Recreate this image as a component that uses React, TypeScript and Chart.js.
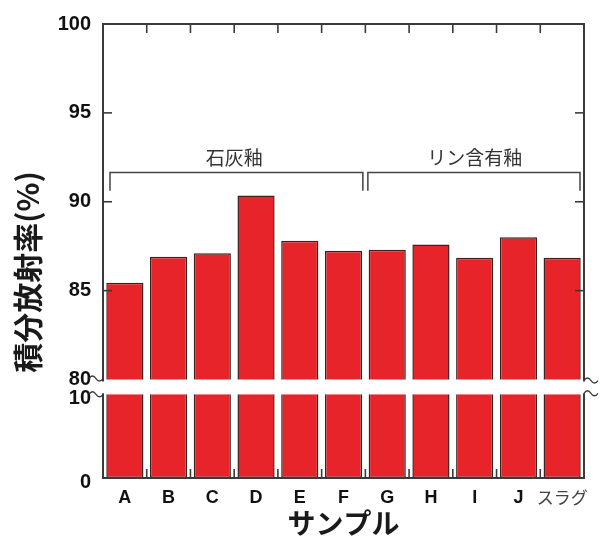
import React, { useEffect, useRef } from 'react';
import { Chart, registerables } from 'chart.js';

Chart.register(...registerables);

// ---- data ----
const categories = ['A', 'B', 'C', 'D', 'E', 'F', 'G', 'H', 'I', 'J', 'スラグ'];
const emissivity = [85.45, 86.9, 87.1, 90.35, 87.8, 87.25, 87.3, 87.6, 86.85, 88.0, 86.85];
const upperTicks = [80, 85, 90, 95, 100];
const lowerTicks = [0, 10];
const innerTickValues = [85, 90, 95];
const groupLabels = ['石灰釉', 'リン含有釉'];
const groupFrom = [0, 6];
const groupTo = [5, 10];
const xTitle = 'サンプル';
const yTitle = '積分放射率(%)';

// axis ranges (broken axis)
const UPPER_MIN = 80;
const UPPER_MAX = 100;
const LOWER_MIN = 0;
const LOWER_TOP = 10;
const LOWER_MAX = 11.76; // includes the white gap above 10
const BRACKET_VALUE = 91.65;
const BRACKET_END_VALUE = 90.62;
const GROUP_LABEL_VALUE = 92.5;

const RED = '#e6242a';
const BAR_EDGE = '#3e2020';
const AXIS = '#3a3a3a';
const LATIN = '"Liberation Sans", Arial, sans-serif';
const CJK = '"Noto Sans CJK JP", sans-serif';

const decorPlugin = {
  id: 'decor',
  afterDraw(chart: any) {
    const ctx = chart.ctx as CanvasRenderingContext2D;
    const x = chart.scales.x;
    const yT = chart.scales.yTop;
    const yB = chart.scales.yBot;
    const { left: L, right: R, top: T, bottom: B } = chart.chartArea;
    const breakTop = yT.getPixelForValue(UPPER_MIN);
    const breakBot = yB.getPixelForValue(LOWER_TOP);
    const line = (x1: number, y1: number, x2: number, y2: number) => {
      ctx.beginPath();
      ctx.moveTo(x1, y1);
      ctx.lineTo(x2, y2);
      ctx.stroke();
    };
    ctx.save();
    ctx.strokeStyle = AXIS;
    ctx.lineWidth = 2;
    ctx.lineCap = 'butt';
    // frame
    line(L - 1, T, R + 1, T);
    line(L - 1, B, R + 1, B);
    line(L, T, L, breakTop + 2);
    line(L, breakBot - 1, L, B);
    line(R, T, R, breakTop + 2);
    line(R, breakBot - 1, R, B);
    // inward ticks on top / bottom at category boundaries
    const n = categories.length;
    const boundary = (i: number) => (x.getPixelForValue(i - 1) + x.getPixelForValue(i)) / 2;
    ctx.lineWidth = 1.6;
    for (let i = 1; i < n; i++) {
      const bx = boundary(i);
      line(bx, T, bx, T + 9);
      line(bx, B, bx, B - 9);
    }
    // inward ticks left / right
    for (const v of innerTickValues) {
      const py = yT.getPixelForValue(v);
      line(L, py, L + 9, py);
      line(R, py, R - 9, py);
    }
    // break tildes
    ctx.lineWidth = 1.3;
    const tilde = (x0: number, cy: number, w: number) => {
      ctx.beginPath();
      ctx.moveTo(x0, cy);
      ctx.quadraticCurveTo(x0 + w / 4, cy - 5, x0 + w / 2, cy);
      ctx.quadraticCurveTo(x0 + (3 * w) / 4, cy + 5, x0 + w, cy);
      ctx.stroke();
    };
    tilde(L - 14, breakTop - 1, 14);
    tilde(L - 14, breakBot, 14);
    tilde(R, breakTop + 1, 14);
    tilde(R, breakBot - 1, 14);
    // group brackets
    ctx.strokeStyle = '#444';
    ctx.lineWidth = 1.5;
    const yb = yT.getPixelForValue(BRACKET_VALUE);
    const ye = yT.getPixelForValue(BRACKET_END_VALUE);
    const yl = yT.getPixelForValue(GROUP_LABEL_VALUE);
    ctx.fillStyle = '#333';
    ctx.font = `19px ${CJK}`;
    ctx.textAlign = 'center';
    ctx.textBaseline = 'middle';
    for (let g = 0; g < groupLabels.length; g++) {
      const s = groupFrom[g] === 0 ? L + 7 : boundary(groupFrom[g]) + 2.5;
      const e = groupTo[g] === n - 1 ? R - 4 : boundary(groupTo[g] + 1) - 2.5;
      ctx.beginPath();
      ctx.moveTo(s, ye);
      ctx.lineTo(s, yb);
      ctx.lineTo(e, yb);
      ctx.lineTo(e, ye);
      ctx.stroke();
      const cx = (x.getPixelForValue(groupFrom[g]) + x.getPixelForValue(groupTo[g])) / 2;
      ctx.fillText(groupLabels[g], cx, yl);
    }
    // titles
    ctx.fillStyle = '#1a1a1a';
    ctx.font = `bold 28px ${CJK}`;
    ctx.fillText(xTitle, (L + R) / 2, 523);
    ctx.save();
    ctx.translate(28, 272);
    ctx.rotate(-Math.PI / 2);
    ctx.font = `bold 30px ${CJK}`;
    ctx.fillText(yTitle, 0, 0);
    ctx.restore();
    ctx.restore();
  },
};

export default function App() {
  const ref = useRef<HTMLCanvasElement>(null);
  useEffect(() => {
    if (!ref.current) return;
    const yFont = { family: LATIN, size: 20, weight: 'bold' };
    const chart = new Chart(ref.current, {
      type: 'bar',
      data: {
        labels: categories,
        datasets: [
          {
            data: emissivity,
            yAxisID: 'yTop',
            backgroundColor: RED,
            borderColor: BAR_EDGE,
            borderWidth: 1.5,
            borderSkipped: 'start',
            grouped: false,
            barPercentage: 0.85,
            categoryPercentage: 1,
          },
          {
            data: emissivity.map((v) => Math.min(v, LOWER_TOP)),
            yAxisID: 'yBot',
            backgroundColor: RED,
            borderColor: BAR_EDGE,
            borderWidth: 1.5,
            borderSkipped: 'top',
            grouped: false,
            barPercentage: 0.85,
            categoryPercentage: 1,
          },
        ],
      },
      options: {
        responsive: false,
        animation: false,
        layout: { padding: { top: 17, right: 17, left: 0, bottom: 0 } },
        plugins: {
          legend: { display: false },
          tooltip: { enabled: false },
          title: { display: false },
        },
        scales: {
          x: {
            type: 'category',
            grid: { display: false, drawTicks: false },
            border: { display: false },
            ticks: {
              padding: 9,
              autoSkip: false,
              maxRotation: 0,
              minRotation: 0,
              color: (c: any) => (c.index === categories.length - 1 ? '#444' : '#111'),
              font: (c: any) =>
                c.index === categories.length - 1
                  ? { family: CJK, size: 17 }
                  : { family: LATIN, size: 18, weight: 'bold' },
            },
            afterFit: (s: any) => {
              s.height = 59;
            },
          },
          yBot: {
            type: 'linear',
            position: 'left',
            stack: 'y',
            stackWeight: 100,
            weight: 0,
            min: LOWER_MIN,
            max: LOWER_MAX,
            grid: { display: false, drawTicks: false },
            border: { display: false },
            ticks: { padding: 12, color: '#111', font: yFont, labelOffset: 4 },
            afterBuildTicks: (s: any) => {
              s.ticks = lowerTicks.map((v) => ({ value: v }));
            },
            afterFit: (s: any) => {
              s.width = 103;
            },
          },
          yTop: {
            type: 'linear',
            position: 'left',
            stack: 'y',
            stackWeight: 361,
            weight: 1,
            min: UPPER_MIN,
            max: UPPER_MAX,
            grid: { display: false, drawTicks: false },
            border: { display: false },
            ticks: { padding: 12, color: '#111', font: yFont },
            afterBuildTicks: (s: any) => {
              s.ticks = upperTicks.map((v) => ({ value: v }));
            },
            afterFit: (s: any) => {
              s.width = 103;
            },
          },
        },
      } as any,
      plugins: [decorPlugin],
    });
    return () => chart.destroy();
  }, []);
  return (
    <div style={{ position: 'fixed', left: 0, top: 0, width: 601, height: 537, background: '#fff' }}>
      <canvas ref={ref} width={601} height={537} style={{ display: 'block' }} />
    </div>
  );
}
